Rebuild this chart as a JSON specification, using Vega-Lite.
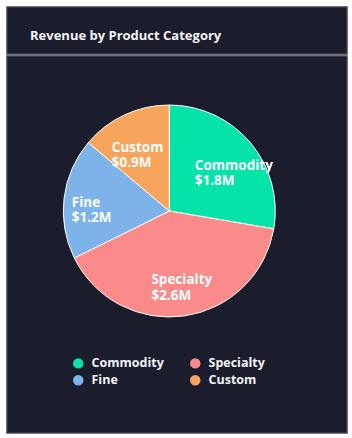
{
  "$schema": "https://vega.github.io/schema/vega-lite/v6.json",
  "background": "#ffffff",
  "padding": {"left": 6, "top": 6, "right": 6, "bottom": 6},
  "spacing": 0,
  "config": {
    "view": {"fill": "#1b1d2c", "stroke": "#3c3f50", "strokeWidth": 1.5},
    "concat": {"spacing": 0},
    "font": "Open Sans"
  },
  "datasets": {
    "revenue": [
      {"category": "Commodity", "revenue": 1.8},
      {"category": "Specialty", "revenue": 2.6},
      {"category": "Fine", "revenue": 1.2},
      {"category": "Custom", "revenue": 0.9}
    ]
  },
  "vconcat": [
    {
      "width": 340,
      "height": 47,
      "view": {"fill": "#1b1d2c", "stroke": "#3c3f50", "strokeWidth": 1.5},
      "title": {
        "text": "Revenue by Product Category",
        "anchor": "start",
        "orient": "top",
        "frame": "group",
        "offset": -36,
        "dx": 23,
        "font": "Open Sans",
        "fontSize": 13,
        "fontWeight": "bold",
        "color": "#f2f3f7"
      },
      "data": {"name": "revenue"},
      "mark": {"type": "text", "text": " ", "opacity": 0},
      "encoding": {}
    },
    {
      "width": 340,
      "height": 377,
      "view": {"fill": "#1b1d2c", "stroke": "#3c3f50", "strokeWidth": 1.5},
      "data": {"name": "revenue"},
      "transform": [
        {"window": [{"op": "row_number", "as": "slice_order"}]},
        {"calculate": "datum.category + '\\n$' + format(datum.revenue, '.1f') + 'M'", "as": "label"}
      ],
      "encoding": {
        "theta": {"field": "revenue", "type": "quantitative", "stack": true},
        "order": {"field": "slice_order", "type": "quantitative", "sort": "ascending"}
      },
      "layer": [
        {
          "mark": {
            "type": "arc",
            "outerRadius": 106,
            "stroke": "#ffffff",
            "strokeWidth": 1,
            "xOffset": -7.7,
            "yOffset": -33.5
          },
          "encoding": {
            "color": {
              "field": "category",
              "type": "nominal",
              "sort": ["Commodity", "Fine", "Specialty", "Custom"],
              "scale": {
                "domain": ["Commodity", "Fine", "Specialty", "Custom"],
                "range": ["#06e3a9", "#7eb3ea", "#fb8a8a", "#f7a45c"]
              },
              "legend": {
                "title": null,
                "orient": "none",
                "legendX": 65,
                "legendY": 350,
                "columns": 2,
                "columnPadding": 25,
                "rowPadding": 4,
                "padding": 0,
                "symbolType": "circle",
                "symbolSize": 110,
                "symbolStrokeWidth": 0,
                "symbolOpacity": 1,
                "labelFont": "Open Sans",
                "labelFontSize": 12.5,
                "labelFontWeight": "bold",
                "labelColor": "#f2f3f7",
                "labelOffset": 7,
                "labelLimit": 200
              }
            }
          }
        },
        {
          "mark": {
            "type": "text",
            "radius": 70,
            "align": "left",
            "baseline": "middle",
            "dx": -28,
            "dy": 0,
            "lineBreak": "\n",
            "lineHeight": 15.5,
            "font": "Open Sans",
            "fontSize": 13.5,
            "fontWeight": "bold",
            "fill": "#ffffff",
            "xOffset": -7.7,
            "yOffset": -33.5
          },
          "encoding": {
            "detail": {"field": "category", "type": "nominal"},
            "text": {"field": "label", "type": "nominal"}
          }
        }
      ]
    }
  ]
}
